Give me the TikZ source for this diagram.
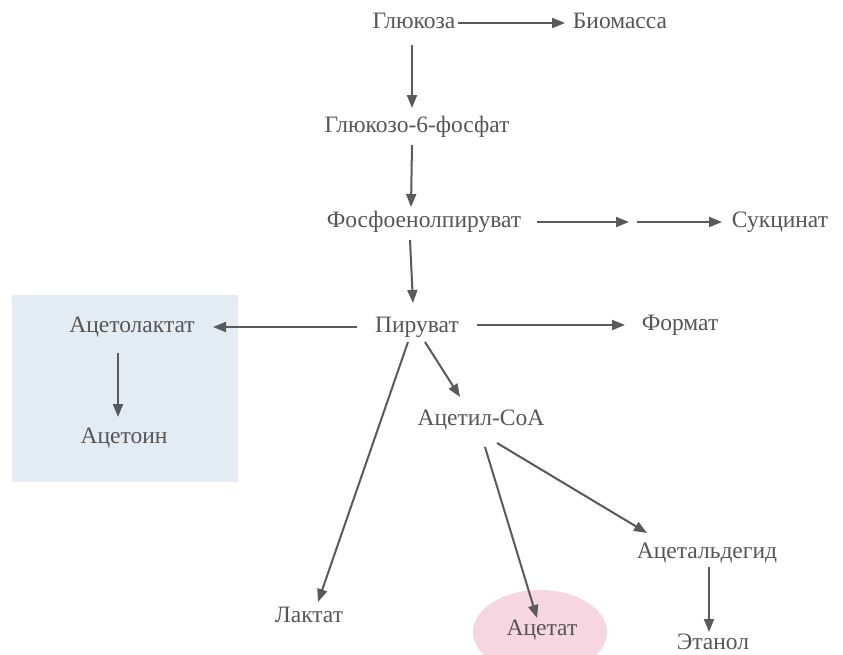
\documentclass[tikz,border=0pt]{standalone}
\usepackage{fontspec}
\setmainfont{Liberation Serif}
\usetikzlibrary{arrows.meta}
\definecolor{txtgray}{HTML}{555555}
\definecolor{arrgray}{HTML}{5A5A5A}
\definecolor{boxblue}{HTML}{E4ECF3}
\definecolor{ovalpink}{HTML}{F6D6E1}
\tikzset{
  lbl/.style={font=\fontsize{23.5}{27}\selectfont, text=txtgray, inner sep=0pt, outer sep=0pt, text height=10pt, text depth=0pt},
  arr/.style={draw=arrgray, line width=2pt, -{Triangle[length=13pt,width=10pt]}}
}
\begin{document}
\begin{tikzpicture}[x=1pt,y=-1pt]
\useasboundingbox[fill=white] (0,0) rectangle (843,654);
% backgrounds
\fill[boxblue] (12,295) rectangle (238,482);
\begin{scope}
\clip (0,0) rectangle (843,654);
\fill[ovalpink] (540,632) ellipse [x radius=67, y radius=42];
\end{scope}
% nodes
\node[lbl] (glu)  at (414,23)  {Глюкоза};
\node[lbl] (bio)  at (620,23)  {Биомасса};
\node[lbl] (g6p)  at (417,127) {Глюкозо-6-фосфат};
\node[lbl] (pep)  at (424,222) {Фосфоенолпируват};
\coordinate (mid) at (633,222);
\node[lbl] (suc)  at (780,222) {Сукцинат};
\node[lbl] (pyr)  at (417,327) {Пируват};
\node[lbl] (acl)  at (132,327) {Ацетолактат};
\node[lbl] (ace)  at (124,438) {Ацетоин};
\node[lbl] (for)  at (680,325) {Формат};
\node[lbl] (acoa) at (481,420) {Ацетил-CoA};
\node[lbl] (lac)  at (309,617) {Лактат};
\node[lbl] (acet) at (542,630) {Ацетат};
\node[lbl] (ald)  at (707,553) {Ацетальдегид};
\node[lbl] (eth)  at (713,644) {Этанол};
% connectors
\draw[arr] ([xshift=44pt]glu.center) -- ([xshift=-55pt]bio.center);
\draw[arr] ([xshift=-2pt,yshift=-22pt]glu.center) -- ([xshift=-5pt,yshift=19pt]g6p.center);
\draw[arr] ([xshift=-5pt,yshift=-18pt]g6p.center) -- ([xshift=-13pt,yshift=15pt]pep.center);
\draw[arr] ([xshift=113pt]pep.center) -- ([xshift=-4pt]mid);
\draw[arr] ([xshift=4pt]mid) -- ([xshift=-58pt]suc.center);
\draw[arr] ([xshift=-14pt,yshift=-18pt]pep.center) -- ([xshift=-4pt,yshift=24pt]pyr.center);
\draw[arr] ([xshift=-60pt]pyr.center) -- ([xshift=81pt]acl.center);
\draw[arr] ([xshift=60pt,yshift=2pt]pyr.center) -- ([xshift=-55pt]for.center);
\draw[arr] ([xshift=-14pt,yshift=-26pt]acl.center) -- ([xshift=-6pt,yshift=21pt]ace.center);
\draw[arr] ([xshift=8pt,yshift=-15pt]pyr.center) -- ([xshift=-21pt,yshift=23pt]acoa.center);
\draw[arr] ([xshift=-9pt,yshift=-15pt]pyr.center) -- ([xshift=9pt,yshift=15pt]lac.center);
\draw[arr] ([xshift=4pt,yshift=-27pt]acoa.center) -- ([xshift=-5pt,yshift=12pt]acet.center);
\draw[arr] ([xshift=16pt,yshift=-23pt]acoa.center) -- ([xshift=-60pt,yshift=20pt]ald.center);
\draw[arr] ([xshift=2pt,yshift=-14pt]ald.center) -- ([xshift=-4pt,yshift=12pt]eth.center);
\end{tikzpicture}
\end{document}
